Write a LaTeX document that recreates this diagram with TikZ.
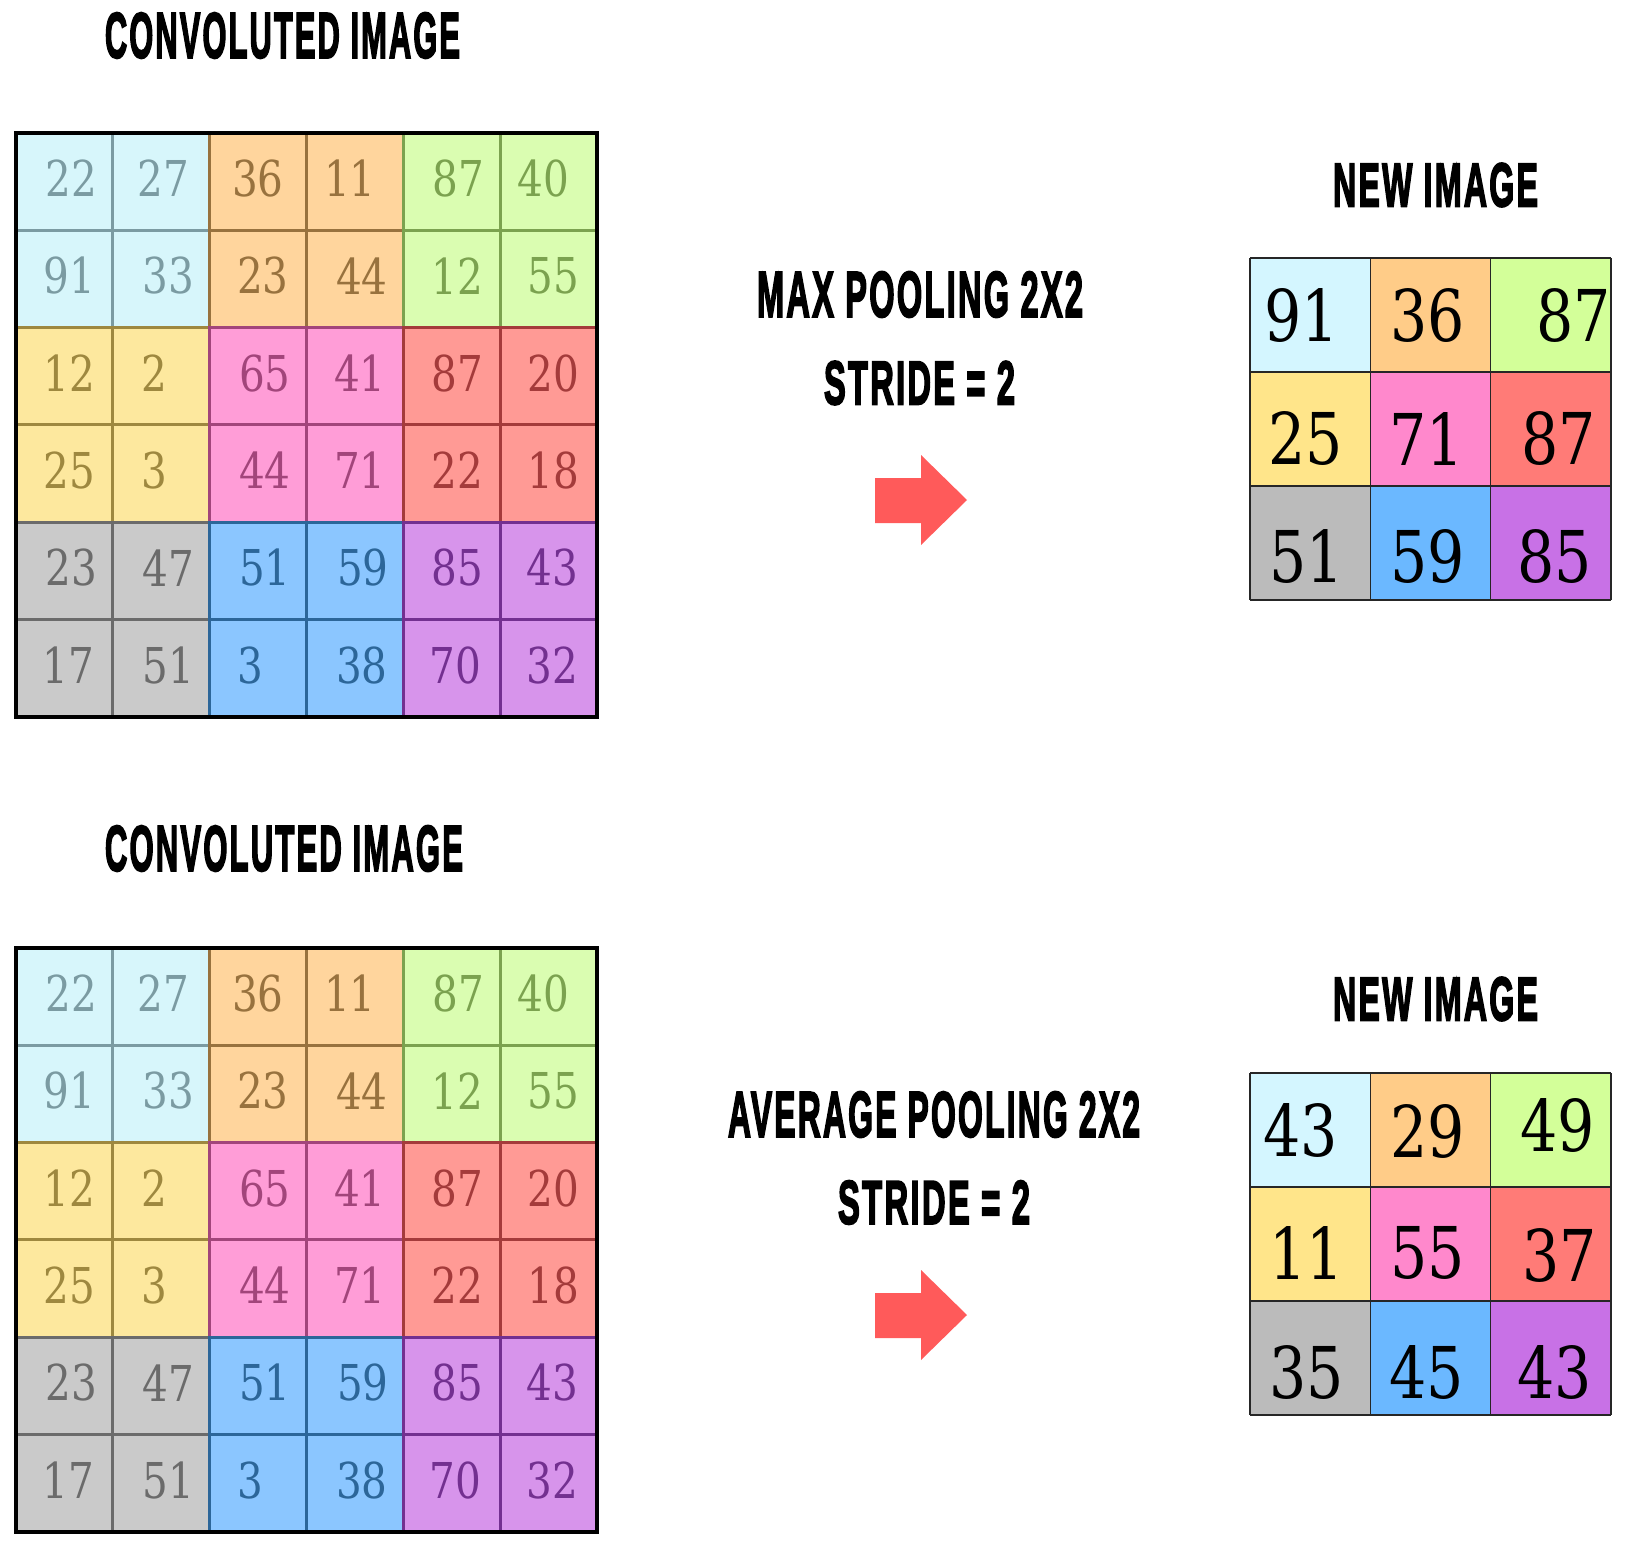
\documentclass[tikz,border=0pt]{standalone}
\usepackage{fontspec}
\usepackage{graphicx}

\newfontfamily\numfont[FakeStretch=0.82]{DejaVu Serif}
\newfontfamily\headfont[FakeBold=3.5,LetterSpace=7]{Liberation Sans Bold}

% block colours: F = fill, L = lines and digits
\definecolor{lbF}{HTML}{D7F6FB}\definecolor{lbL}{HTML}{7B9BA2}
\definecolor{orF}{HTML}{FFD59D}\definecolor{orL}{HTML}{98723E}
\definecolor{grF}{HTML}{DAFDB1}\definecolor{grL}{HTML}{7BA24F}
\definecolor{yeF}{HTML}{FDE89E}\definecolor{yeL}{HTML}{9E883F}
\definecolor{pkF}{HTML}{FF9DD7}\definecolor{pkL}{HTML}{A2457B}
\definecolor{rdF}{HTML}{FF9A95}\definecolor{rdL}{HTML}{A43B3B}
\definecolor{gyF}{HTML}{CACACA}\definecolor{gyL}{HTML}{6B6B6B}
\definecolor{blF}{HTML}{8BC6FF}\definecolor{blL}{HTML}{2C6699}
\definecolor{puF}{HTML}{D794EB}\definecolor{puL}{HTML}{733090}
% new image colours
\definecolor{nlb}{HTML}{D4F6FF}\definecolor{nor}{HTML}{FFCC88}
\definecolor{ngr}{HTML}{D3FF99}\definecolor{nye}{HTML}{FFE58A}
\definecolor{npk}{HTML}{FF88CC}\definecolor{nrd}{HTML}{FF7B77}
\definecolor{ngy}{HTML}{BBBBBB}\definecolor{nbl}{HTML}{6BB8FF}
\definecolor{npu}{HTML}{C871E6}
\definecolor{arrowred}{HTML}{FF5A5A}

\tikzset{
  cellnum/.style={inner sep=0pt, font=\numfont\fontsize{24.7}{26}\selectfont},
  newnum/.style={inner sep=0pt, text=black, font=\numfont\fontsize{35.7}{38}\selectfont},
  head/.style={inner sep=0pt},
  blockline/.style={line width=1.5pt},
  newcell/.style={draw=black!85, line width=0.8pt},
  pointer/.style={fill=arrowred}
}

\newcommand{\headbox}[3]{\resizebox{#1pt}{#2pt}{\headfont #3}}

% 6x6 convoluted image, #1 = y offset, #2 = name
\newcommand{\convgrid}[2]{%
\begin{scope}[shift={(0,#1)}]
\foreach \br/\bc/\cn in {0/0/lb,0/1/or,0/2/gr,1/0/ye,1/1/pk,1/2/rd,2/0/gy,2/1/bl,2/2/pu}{
  \pgfmathsetmacro\xa{16+193.6*\bc}
  \pgfmathsetmacro\ya{133+194.6*\br}
  \fill[\cn F] (\xa,\ya) rectangle ++(193.6,194.6);
  \draw[blockline,\cn L] (\xa+96.8,\ya) -- ++(0,194.6) (\xa,\ya+97.3) -- ++(193.6,0);
  \draw[blockline,\cn L] (\xa,\ya) rectangle ++(193.6,194.6);
}
\foreach \row [count=\r from 0] in {{22/7,27/2,36/0,11/-5,87/7,40/-5},{91/5,33/7,23/5,44/7,12/6,55/5},{12/5,2/-7,65/7,41/5,87/6,20/5},{25/5,3/-7,44/7,71/5,22/6,18/5},{23/7,47/7,51/7,59/8,85/6,43/4},{17/4,51/7,3/-8,38/7,70/4,32/4}}{
  \foreach \v/\dx [count=\c from 0] in \row {
    \pgfmathtruncatemacro\k{3*int(\r/2)+int(\c/2)}
    \pgfmathsetmacro\cn{{"lb","or","gr","ye","pk","rd","gy","bl","pu"}[\k]}
    \node[cellnum, text=\cn L] (#2-\r-\c) at ({16+96.8*(\c+0.5)+\dx},{133+97.3*(\r+0.5)-3}) {\v};
  }
}
\draw[line width=2pt] (16,133) rectangle (597,717);
\end{scope}}

% 3x3 new image, #1 = y offset, #2 = name, #3 = value/x/y
\newcommand{\newgrid}[3]{%
\begin{scope}[shift={(0,#1)}]
\foreach \cn [count=\k from 0] in {lb,or,gr,ye,pk,rd,gy,bl,pu}{
  \pgfmathtruncatemacro\r{int(\k/3)}
  \pgfmathtruncatemacro\c{mod(\k,3)}
  \fill[n\cn] ({1250+120.3*\c},{258+114*\r}) rectangle ++(120.3,114);
}
\foreach \i in {0,...,3}{
  \draw[newcell] ({1250+120.3*\i},258) -- ++(0,342);
  \draw[newcell] (1250,{258+114*\i}) -- ++(361,0);
}
\foreach \v/\x/\y [count=\k from 0] in {#3}
  \node[newnum] (#2-\k) at (\x,\y) {\v};
\end{scope}}

\begin{document}
\begin{tikzpicture}[x=0.5pt, y=-0.5pt]
\useasboundingbox (0,0) rectangle (1630,1542);

% max pooling
\node[head] (convtitle1) at (282.5,35.5) {\headbox{177.5}{22.5}{CONVOLUTED IMAGE}};
\convgrid{0}{c1}
\node[head] (maxtitle) at (920,294.5) {\headbox{163}{22.5}{MAX POOLING 2X2}};
\node[head] (stride1) at (919.5,383) {\headbox{95.5}{21.5}{STRIDE = 2}};
\fill[pointer] (875,478) -- (921,478) -- (921,455) -- (967,500) -- (921,545) -- (921,523) -- (875,523) -- cycle;
\node[head] (newtitle1) at (1435.5,185) {\headbox{102.5}{21.5}{NEW IMAGE}};
\newgrid{0}{m1}{91/1302/316,36/1428/316,87/1574/316,25/1306/439,71/1427/439,87/1559/439,51/1307/557,59/1428/557,85/1555/557}

% average pooling
\node[head] (convtitle2) at (284,848.5) {\headbox{179}{22.5}{CONVOLUTED IMAGE}};
\convgrid{815}{c2}
\node[head] (avgtitle) at (934,1114.5) {\headbox{206}{22.5}{AVERAGE POOLING 2X2}};
\node[head] (stride2) at (934,1202.5) {\headbox{96}{21.5}{STRIDE = 2}};
\fill[pointer] (875,1293) -- (921,1293) -- (921,1270) -- (967,1315) -- (921,1360) -- (921,1338) -- (875,1338) -- cycle;
\node[head] (newtitle2) at (1435.5,999) {\headbox{102.5}{21.5}{NEW IMAGE}};
\newgrid{815}{m2}{43/1301/316,29/1428/317,49/1558/311,11/1307/438,55/1428/438,37/1560/441,35/1307/557,45/1427/557,43/1555/557}
\end{tikzpicture}
\end{document}
